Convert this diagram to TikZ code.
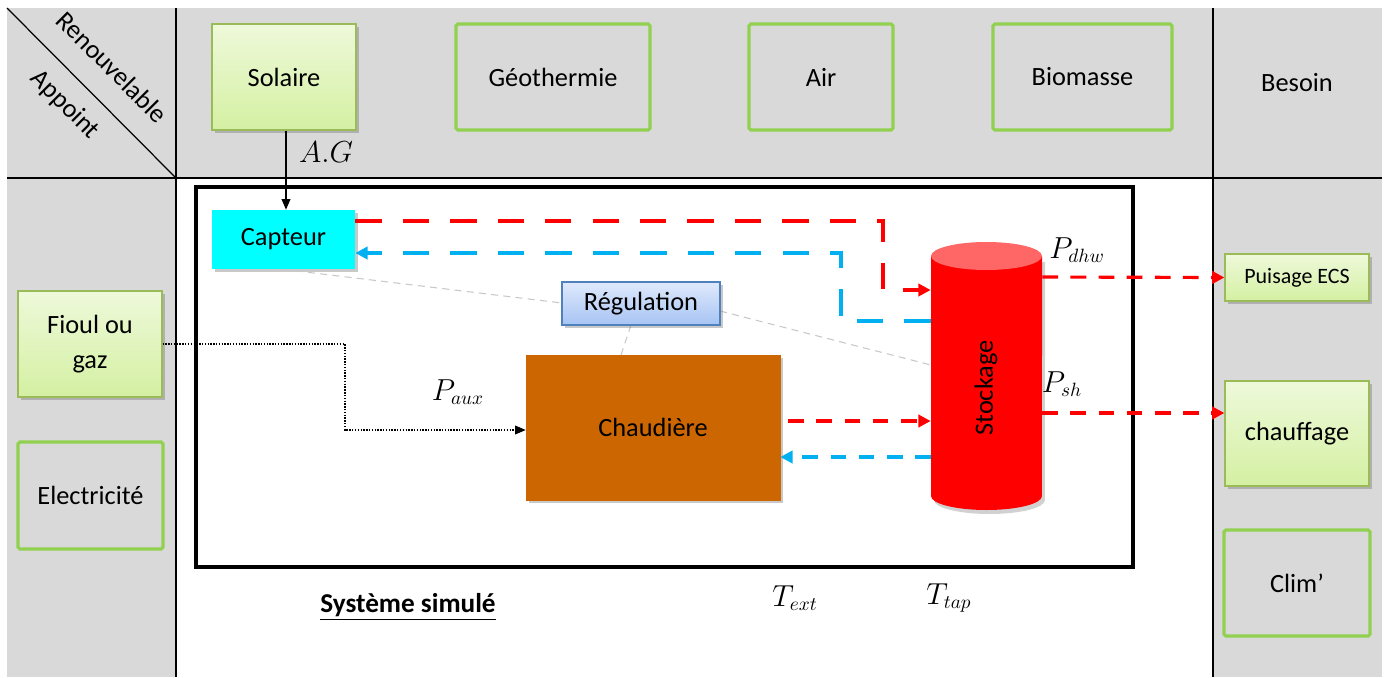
\documentclass[tikz,border=0pt]{standalone}
\usepackage{fontspec}
\setmainfont{Carlito}
\usetikzlibrary{arrows.meta,shadows,calc}
\definecolor{bggray}{HTML}{D9D9D9}
\definecolor{lgreen}{HTML}{92D050}
\definecolor{dgreen}{HTML}{9BBB59}
\definecolor{ftop}{RGB}{238,249,218}
\definecolor{fbot}{RGB}{212,240,162}
\definecolor{rtop}{HTML}{DFE9FB}
\definecolor{rbot}{HTML}{A7C4F4}
\definecolor{rbord}{HTML}{4F81BD}
\definecolor{brown}{HTML}{CC6600}
\definecolor{cred}{HTML}{FF0000}
\definecolor{topred}{HTML}{FF6666}
\definecolor{cblue}{HTML}{00B0F0}
\definecolor{ccyan}{HTML}{00FFFF}
\definecolor{ctrl}{HTML}{C8C8C8}
\begin{document}
\begin{tikzpicture}[x=0.02cm,y=-0.02cm,
  every node/.style={font=\fontsize{15}{18}\selectfont},
  shad/.style={drop shadow={shadow xshift=1.6pt,shadow yshift=-1.6pt,opacity=0.35,fill=black!60}},
  outbox/.style={draw=lgreen,line width=1.8pt,rounded corners=1pt,inner sep=0pt},
  fillbox/.style={draw=dgreen,line width=0.7pt,top color=ftop,bottom color=fbot,inner sep=0pt,shad},
  mathlab/.style={font=\fontsize{16}{19}\selectfont},
  hotline/.style={draw=cred,line width=1.8pt,dash pattern=on 9pt off 7pt,-{Triangle[length=7pt,width=7pt]}},
  coldline/.style={draw=cblue,line width=1.8pt,dash pattern=on 9pt off 7pt,-{Triangle[length=7pt,width=7pt]}},
  longhot/.style={hotline,dash pattern=on 15pt off 12pt},
  longcold/.style={coldline,dash pattern=on 15pt off 12pt},
  ctrlline/.style={draw=ctrl,line width=0.6pt,dash pattern=on 4pt off 3pt}
]
\useasboundingbox (0,0) rectangle (1387,677);
% background
\fill[bggray] (7,8) rectangle (1382,677);
\fill[white] (176,178) rectangle (1213,677);
\draw[line width=0.7pt] (176,8) -- (176,677);
\draw[line width=0.7pt] (1213,8) -- (1213,677);
\draw[line width=0.7pt] (7,178) -- (1382,178);
\draw[line width=0.7pt] (7,8) -- (176,178);
\node[rotate=-45,inner sep=0pt] (ren) at (112,67) {Renouvelable};
\node[rotate=-45,inner sep=0pt] (app) at (65,105) {Appoint};

% top row
\node[fillbox,minimum width=2.88cm,minimum height=2.12cm] (sol) at (284,77) {Solaire};
\node[outbox,minimum width=3.88cm,minimum height=2.12cm] (geo) at (553,77) {Géothermie};
\node[outbox,minimum width=2.88cm,minimum height=2.12cm] (air) at (821,77) {Air};
\node[outbox,minimum width=3.58cm,minimum height=2.12cm] (bio) at (1082.5,77) {Biomasse};
\node (bes) at (1297,83) {Besoin};

% left column
\node[fillbox,minimum width=2.88cm,minimum height=2.12cm,align=center] (fio) at (90,344) {Fioul ou\\[2pt]gaz};
\node[outbox,minimum width=2.9cm,minimum height=2.14cm] (ele) at (90.5,495.5) {Electricité};

% right column
\node[fillbox,minimum width=2.88cm,minimum height=0.94cm,font=\fontsize{12.5}{15}\selectfont] (ecs) at (1297,277.5) {Puisage ECS};
\node[fillbox,minimum width=2.88cm,minimum height=2.1cm] (chf) at (1297,433.5) {chauffage};
\node[outbox,minimum width=2.92cm,minimum height=2.12cm] (clim) at (1297,583) {Clim’};

% simulated system
\node[draw,line width=2.3pt,minimum width=18.74cm,minimum height=7.6cm,inner sep=0pt] (sys) at (664.5,377) {};
\node[fill=ccyan,inner sep=0pt,minimum width=2.86cm,minimum height=1.18cm,shad] (cap) at (283.5,239.5) {Capteur};
\node[draw=brown,fill=brown,inner sep=0pt,minimum width=5.08cm,minimum height=2.9cm,shad] (chd) at (653,427.5) {Chaudière};

% control lines
\draw[ctrlline] (cap.south) -- (562,303);
\draw[ctrlline] (720,311) -- (931,365);
\draw[ctrlline] (631,325) -- (621,355);
\node[draw=rbord,line width=0.7pt,top color=rtop,bottom color=rbot,inner sep=0pt,minimum width=3.16cm,minimum height=0.86cm,shad] (reg) at (641,303.5) {Régulation};

% storage cylinder
\node[inner sep=0pt,minimum width=2.22cm,minimum height=5.36cm] (sto) at (986.5,376) {};
\fill[black,opacity=0.18] (934,262) -- (934,500) arc[start angle=180,end angle=360,x radius=1.11cm,y radius=0.28cm] -- (1045,262) -- cycle;
\fill[cred] (931,256) -- (931,496) arc[start angle=180,end angle=360,x radius=1.11cm,y radius=0.28cm] -- (1042,256) -- cycle;
\fill[topred] (986.5,256) ellipse[x radius=1.11cm,y radius=0.28cm];
\node[rotate=90] (stol) at (986,388) {Stockage};

% connectors
\draw[-{Triangle[length=6pt,width=5pt]},line width=0.6pt] (sol.south -| 286,0) -- (cap.north -| 286,0);
\node[mathlab] (ag) at (326,152) {$A.G$};

\draw[longhot] (cap.east |- 0,221) -| (883,290) -- (sto.west |- 0,290);
\draw[longcold] (sto.west |- 0,321) -| (841,253) -- (cap.east |- 0,253);

\draw[hotline] (sto.east |- 0,277) -- (ecs.west);
\node[mathlab] (pdhw) at (1077,250) {$P_{dhw}$};
\draw[hotline] (sto.east |- 0,413) -- (chf.west |- 0,413);
\node[mathlab] (psh) at (1062,384) {$P_{sh}$};

\draw[hotline] (chd.east |- 0,421) ++(8,0) -- (sto.west |- 0,421);
\draw[coldline] (sto.west |- 0,457) -- (chd.east |- 0,457);

\draw[line width=0.6pt,dash pattern=on 0.8pt off 0.8pt,-{Triangle[length=6pt,width=5pt]}] (fio.east) -| (345,430) -- (chd.west |- 0,430);
\node[mathlab] (paux) at (458,392) {$P_{aux}$};

\node[mathlab] (text) at (795,598) {$T_{ext}$};
\node[mathlab] (ttap) at (949,598) {$T_{tap}$};
\node[font=\fontsize{15.5}{18}\selectfont\bfseries] (simu) at (408,607) {\underline{Système simulé}};
\end{tikzpicture}
\end{document}
